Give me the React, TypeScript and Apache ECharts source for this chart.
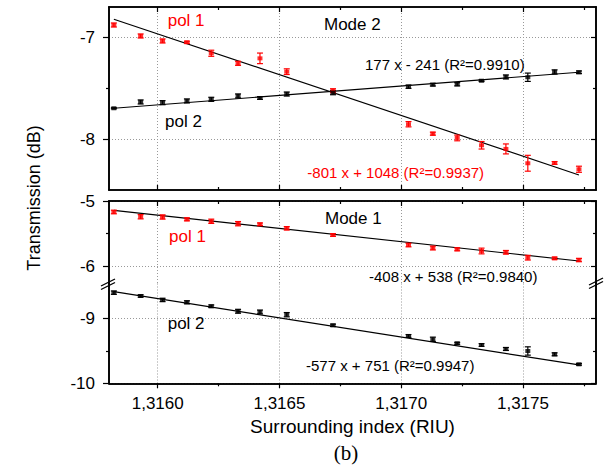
import React, { useEffect, useRef } from 'react';
import * as echarts from 'echarts';

// ---- Data ----
const xs = [1.31582, 1.31593, 1.31602, 1.31612, 1.31622, 1.31633, 1.31642, 1.31653, 1.31672, 1.31703, 1.31713, 1.31723, 1.31733, 1.31743, 1.31752, 1.31763, 1.31773];

const mode2Pol1 = [-6.877, -6.985, -7.034, -7.047, -7.155, -7.254, -7.205, -7.336, -7.524, -7.853, -7.946, -7.988, -8.06, -8.096, -8.237, -8.234, -8.296];
const mode2Pol1Err = [0.02, 0.02, 0.02, 0.01, 0.03, 0.02, 0.052, 0.028, 0.02, 0.026, 0.015, 0.028, 0.037, 0.049, 0.078, 0.013, 0.03];
const mode2Pol2 = [-7.696, -7.634, -7.641, -7.624, -7.608, -7.575, -7.595, -7.556, -7.543, -7.484, -7.464, -7.46, -7.425, -7.388, -7.391, -7.339, -7.342];
const mode2Pol2Err = [0.005, 0.02, 0.02, 0.02, 0.02, 0.02, 0.013, 0.02, 0.02, 0.016, 0.013, 0.016, 0.008, 0.02, 0.041, 0.021, 0.013];

const mode1Pol1 = [-5.169, -5.242, -5.246, -5.282, -5.312, -5.349, -5.358, -5.42, -5.523, -5.677, -5.723, -5.743, -5.769, -5.789, -5.872, -5.882, -5.908];
const mode1Pol1Err = [0.028, 0.033, 0.033, 0.023, 0.033, 0.033, 0.02, 0.026, 0.02, 0.028, 0.03, 0.023, 0.044, 0.028, 0.036, 0.018, 0.026];
const mode1Pol2 = [-8.606, -8.657, -8.718, -8.754, -8.815, -8.892, -8.903, -8.945, -9.108, -9.272, -9.323, -9.385, -9.411, -9.472, -9.503, -9.554, -9.708];
const mode1Pol2Err = [0.026, 0.018, 0.026, 0.023, 0.02, 0.03, 0.03, 0.033, 0.018, 0.02, 0.033, 0.015, 0.02, 0.023, 0.064, 0.023, 0.013];

const fitX = [1.31582, 1.31773];
const mode2Pol1Fit = [-6.821, -8.352];
const mode2Pol2Fit = [-7.696, -7.342];
const mode1Pol1Fit = [-5.143, -5.923];
const mode1Pol2Fit = [-8.591, -9.718];

const xMajorTicks = [1.316, 1.3165, 1.317, 1.3175];
const xMinorTicks = [1.31625, 1.31675, 1.31725, 1.31775];
const mode2YMajor = [-8, -7];
const mode2YMinor = [-7.5];
const mode1UpperYMajor = [-6, -5];
const mode1UpperYMinor = [-5.5];
const mode1LowerYMajor = [-10, -9];
const mode1LowerYMinor = [-9.5];

const labelsText = {
  mode2: 'Mode 2',
  mode1: 'Mode 1',
  pol1: 'pol 1',
  pol2: 'pol 2',
  fit2a: '177 x - 241 (R²=0.9910)',
  fit2b: '-801 x + 1048 (R²=0.9937)',
  fit1a: '-408 x + 538 (R²=0.9840)',
  fit1b: '-577 x + 751 (R²=0.9947)',
};

const X_MIN = 1.3158;
const X_MAX = 1.3178;
const RED = '#ff0000';
const BLACK = '#000000';
const FONT = '"Liberation Sans", Arial, Helvetica, sans-serif';

const axisLineStyle = { color: '#000', width: 1.6 };
const tickLineStyle = { color: '#000', width: 1.2 };
const gridLineStyle = { color: '#999', width: 1, type: [1, 2] as number[] };

function xAxisDef(grid: number, position: string, ticks: number[], len: number, inside: boolean, opts: any = {}) {
  return {
    type: 'value',
    gridIndex: grid,
    position,
    min: X_MIN,
    max: X_MAX,
    axisLine: { show: true, onZero: false, lineStyle: axisLineStyle },
    axisTick: { show: true, inside, length: len, customValues: ticks, lineStyle: tickLineStyle },
    axisLabel: opts.labels
      ? {
          show: true,
          customValues: ticks,
          margin: 12,
          fontSize: 17,
          color: '#000',
          fontFamily: FONT,
          formatter: (v: number) => v.toFixed(4).replace('.', ','),
        }
      : { show: false },
    splitLine: opts.split ? { show: true, lineStyle: gridLineStyle } : { show: false },
    name: opts.name,
    nameLocation: 'middle',
    nameGap: opts.nameGap,
    nameTextStyle: { fontSize: 19, color: '#000', fontFamily: FONT },
  };
}

function yAxisDef(grid: number, position: string, min: number, max: number, ticks: number[], len: number, inside: boolean, opts: any = {}) {
  return {
    type: 'value',
    gridIndex: grid,
    position,
    min,
    max,
    axisLine: { show: true, onZero: false, lineStyle: axisLineStyle },
    axisTick: { show: true, inside, length: len, customValues: ticks, lineStyle: tickLineStyle },
    axisLabel: opts.labels
      ? {
          show: true,
          customValues: ticks,
          margin: 14,
          fontSize: 17,
          color: '#000',
          fontFamily: FONT,
          formatter: (v: number) => String(Math.round(v)),
        }
      : { show: false },
    splitLine: opts.split ? { show: true, lineStyle: gridLineStyle } : { show: false },
  };
}

function pairs(x: number[], y: number[]) {
  return x.map((v, i) => [v, y[i]]);
}
function errData(x: number[], y: number[], e: number[]) {
  return x.map((v, i) => [v, y[i] - e[i], y[i] + e[i]]);
}

function errorSeries(data: number[][], color: string, xi: number, yi: number) {
  return {
    type: 'custom',
    xAxisIndex: xi,
    yAxisIndex: yi,
    data,
    encode: { x: 0, y: [1, 2] },
    z: 3,
    renderItem: (params: any, api: any) => {
      const x = api.value(0);
      const p1 = api.coord([x, api.value(2)]);
      const p2 = api.coord([x, api.value(1)]);
      const w = 3;
      const style = { stroke: color, lineWidth: 1.2 };
      return {
        type: 'group',
        children: [
          { type: 'line', shape: { x1: p1[0], y1: p1[1], x2: p2[0], y2: p2[1] }, style },
          { type: 'line', shape: { x1: p1[0] - w, y1: p1[1], x2: p1[0] + w, y2: p1[1] }, style },
          { type: 'line', shape: { x1: p2[0] - w, y1: p2[1], x2: p2[0] + w, y2: p2[1] }, style },
        ],
      };
    },
  };
}

function pointSeries(data: number[][], color: string, xi: number, yi: number) {
  return {
    type: 'scatter',
    xAxisIndex: xi,
    yAxisIndex: yi,
    data,
    symbol: 'rect',
    symbolSize: [5, 4],
    itemStyle: { color },
    z: 4,
  };
}

function fitSeries(y: number[], xi: number, yi: number) {
  return {
    type: 'line',
    xAxisIndex: xi,
    yAxisIndex: yi,
    data: pairs(fitX, y),
    showSymbol: false,
    symbol: 'none',
    lineStyle: { color: '#000', width: 1.2 },
    z: 2,
  };
}

function txt(text: string, x: number, y: number, color: string, size: number) {
  return {
    type: 'text',
    x,
    y,
    style: { text, fill: color, font: `${size}px ${FONT}`, textAlign: 'left', textVerticalAlign: 'middle' },
    z: 10,
  };
}
function seg(x1: number, y1: number, x2: number, y2: number) {
  return { type: 'line', shape: { x1, y1, x2, y2 }, style: { stroke: '#000', lineWidth: 1.3 }, z: 10 };
}

export default function App() {
  const ref = useRef<HTMLDivElement>(null);
  useEffect(() => {
    if (!ref.current) return;
    const chart = echarts.init(ref.current, undefined, { renderer: 'svg' });

    const G0 = { left: 109, top: 7, width: 487, height: 183 };
    const G1 = { left: 109, top: 201, width: 487, height: 82.5 };
    const G2 = { left: 109, top: 283.5, width: 487, height: 99.8 };

    const xAxis = [
      // grid 0 (Mode 2)
      xAxisDef(0, 'bottom', xMajorTicks, 5, true, { split: true }), // 0 main
      xAxisDef(0, 'bottom', xMinorTicks, 3, true), // 1
      xAxisDef(0, 'top', xMajorTicks, 5, true), // 2
      xAxisDef(0, 'top', xMinorTicks, 3, true), // 3
      // grid 1 (Mode 1 upper)
      xAxisDef(1, 'top', xMajorTicks, 5, true, { split: true }), // 4 main
      xAxisDef(1, 'top', xMinorTicks, 3, true), // 5
      // grid 2 (Mode 1 lower)
      xAxisDef(2, 'bottom', xMajorTicks, 5, false, {
        split: true,
        labels: true,
        name: 'Surrounding index (RIU)',
        nameGap: 34,
      }), // 6 main
      xAxisDef(2, 'bottom', xMinorTicks, 3, false), // 7
    ];

    const yAxis = [
      // grid 0
      yAxisDef(0, 'left', -8.5, -6.7, mode2YMajor, 6, false, { labels: true, split: true }), // 0 main
      yAxisDef(0, 'left', -8.5, -6.7, mode2YMinor, 3, false),
      yAxisDef(0, 'right', -8.5, -6.7, mode2YMajor, 5, true),
      yAxisDef(0, 'right', -8.5, -6.7, mode2YMinor, 3, true),
      // grid 1
      yAxisDef(1, 'left', -6.269, -5, mode1UpperYMajor, 6, false, { labels: true, split: true }), // 4 main
      yAxisDef(1, 'left', -6.269, -5, mode1UpperYMinor, 3, false),
      yAxisDef(1, 'right', -6.269, -5, mode1UpperYMajor, 5, true),
      yAxisDef(1, 'right', -6.269, -5, mode1UpperYMinor, 3, true),
      // grid 2
      yAxisDef(2, 'left', -10, -8.465, mode1LowerYMajor, 6, false, { labels: true, split: true }), // 8 main
      yAxisDef(2, 'left', -10, -8.465, mode1LowerYMinor, 3, false),
      yAxisDef(2, 'right', -10, -8.465, mode1LowerYMajor, 5, true),
      yAxisDef(2, 'right', -10, -8.465, mode1LowerYMinor, 3, true),
    ];

    const series = [
      fitSeries(mode2Pol1Fit, 0, 0),
      fitSeries(mode2Pol2Fit, 0, 0),
      fitSeries(mode1Pol1Fit, 4, 4),
      fitSeries(mode1Pol2Fit, 6, 8),
      errorSeries(errData(xs, mode2Pol1, mode2Pol1Err), RED, 0, 0),
      errorSeries(errData(xs, mode2Pol2, mode2Pol2Err), BLACK, 0, 0),
      errorSeries(errData(xs, mode1Pol1, mode1Pol1Err), RED, 4, 4),
      errorSeries(errData(xs, mode1Pol2, mode1Pol2Err), BLACK, 6, 8),
      pointSeries(pairs(xs, mode2Pol1), RED, 0, 0),
      pointSeries(pairs(xs, mode2Pol2), BLACK, 0, 0),
      pointSeries(pairs(xs, mode1Pol1), RED, 4, 4),
      pointSeries(pairs(xs, mode1Pol2), BLACK, 6, 8),
    ];

    chart.setOption({
      animation: false,
      backgroundColor: '#ffffff',
      grid: [G0, G1, G2],
      xAxis,
      yAxis,
      series,
      graphic: [
        txt(labelsText.pol1, 167.7, 20.7, RED, 17),
        txt(labelsText.mode2, 324, 24.3, BLACK, 17),
        txt(labelsText.fit2a, 365, 64, BLACK, 15),
        txt(labelsText.pol2, 165, 121.7, BLACK, 17),
        txt(labelsText.fit2b, 307.3, 172.7, RED, 15),
        txt(labelsText.mode1, 325, 218.3, BLACK, 17),
        txt(labelsText.pol1, 169, 236.7, RED, 17),
        txt(labelsText.fit1a, 369, 276.7, BLACK, 15),
        txt(labelsText.pol2, 167.7, 323.3, BLACK, 17),
        txt(labelsText.fit1b, 306, 365, BLACK, 15),
        {
          type: 'text',
          x: 34,
          y: 198,
          rotation: Math.PI / 2,
          style: {
            text: 'Transmission (dB)',
            fill: '#000',
            font: `18px ${FONT}`,
            textAlign: 'center',
            textVerticalAlign: 'middle',
          },
          z: 10,
        },
        {
          type: 'text',
          x: 346,
          y: 453,
          style: {
            text: '(b)',
            fill: '#000',
            font: '21px "Liberation Serif", "Times New Roman", serif',
            textAlign: 'center',
            textVerticalAlign: 'middle',
          },
          z: 10,
        },
        seg(101, 286, 115, 279),
        seg(101, 289.5, 115, 282.5),
        seg(589, 285, 603, 278),
        seg(589, 288.5, 603, 281.5),
      ],
    });
    return () => chart.dispose();
  }, []);

  return (
    <div
      ref={ref}
      style={{ position: 'fixed', left: 0, top: 0, width: 609, height: 466, background: '#fff' }}
    />
  );
}
